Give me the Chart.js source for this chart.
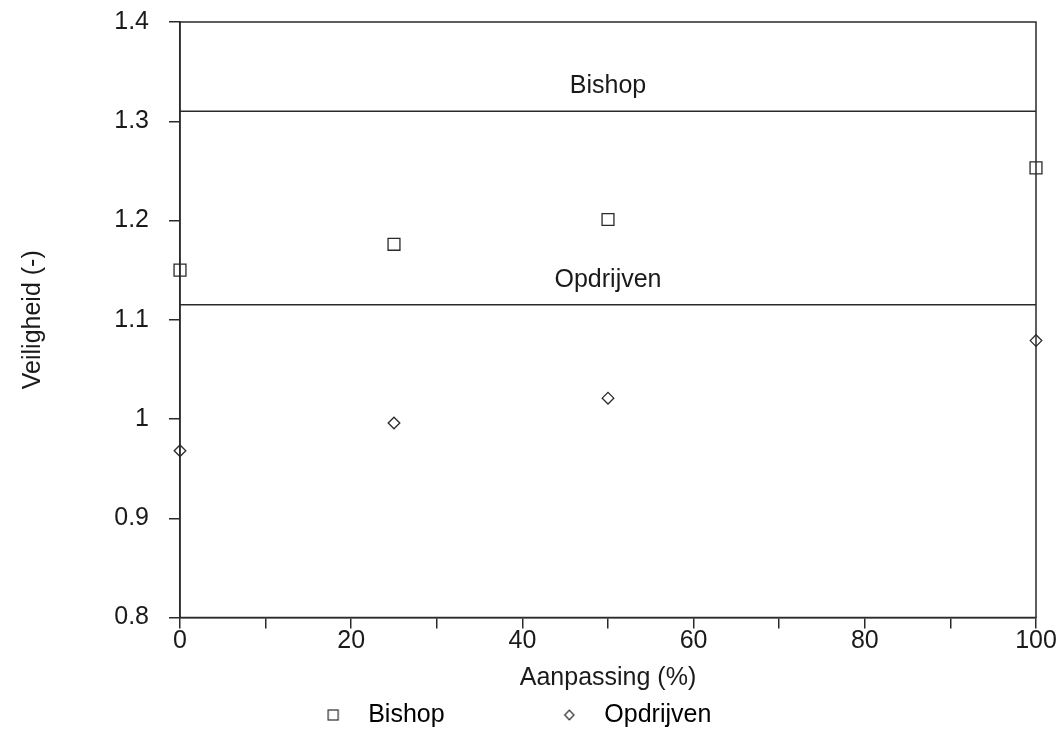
<!DOCTYPE html>
<html>
<head>
<meta charset="utf-8">
<title>Veiligheid tegen aanpassing</title>
<script src="https://cdn.jsdelivr.net/npm/chart.js@4.4.1/dist/chart.umd.min.js"></script>
<style>
  html, body { margin: 0; padding: 0; background: #fff; }
  #chart { display: block; }
</style>
</head>
<body>
<canvas id="chart" width="1059" height="731"></canvas>
<script>
// measured points (x = aanpassing in %)
const aanpassing = [0, 25, 50, 100];
const bishop = [1.150, 1.176, 1.201, 1.253];
const opdrijven = [0.968, 0.996, 1.021, 1.079];

// horizontal reference levels, label printed above each line
const refNames = ['Bishop', 'Opdrijven'];
const refLevels = [1.31, 1.115];
const refSpan = [0, 100];

const xTickLabels = [0, 20, 40, 60, 80, 100];
const yTickLabels = ['0.8', '0.9', '1', '1.1', '1.2', '1.3', '1.4'];

const ink = '#1a1a1a';
const axisColor = '#2a2a2a';
const fontFamily = '"Liberation Sans", Arial, Helvetica, sans-serif';

Chart.defaults.font.family = fontFamily;
Chart.defaults.font.size = 25;
Chart.defaults.color = ink;

// small marker pictures for the legend, so the gap to the text can be wider
function legendMarker(shape) {
    const c = document.createElement('canvas');
    c.width = 14;
    c.height = 14;
    const g = c.getContext('2d');
    g.strokeStyle = axisColor;
    g.lineWidth = 1.2;
    if (shape === 'square') {
        g.strokeRect(2, 2, 10, 10);
    } else {
        g.beginPath();
        g.moveTo(7, 2.2);
        g.lineTo(11.6, 7);
        g.lineTo(7, 11.8);
        g.lineTo(2.4, 7);
        g.closePath();
        g.stroke();
    }
    return c;
}
const markerSquare = legendMarker('square');
const markerDiamond = legendMarker('diamond');

// frame round the plot area (top and right sides)
const frame = {
    id: 'frame',
    beforeDatasetsDraw(chart) {
        const {ctx, chartArea: a} = chart;
        ctx.save();
        ctx.strokeStyle = axisColor;
        ctx.lineWidth = 1.5;
        ctx.strokeRect(a.left, a.top, a.right - a.left, a.bottom - a.top);
        ctx.restore();
    }
};

// names written above the reference lines
const refLabels = {
    id: 'refLabels',
    afterDatasetsDraw(chart) {
        const {ctx, scales: {x, y}} = chart;
        ctx.save();
        ctx.font = '25px ' + fontFamily;
        ctx.fillStyle = ink;
        ctx.textAlign = 'center';
        ctx.textBaseline = 'middle';
        refNames.forEach((name, i) => {
            ctx.fillText(name, x.getPixelForValue((refSpan[0] + refSpan[1]) / 2),
                y.getPixelForValue(refLevels[i]) - 25);
        });
        ctx.restore();
    }
};

const points = vals => aanpassing.map((a, i) => ({x: a, y: vals[i]}));
const refLine = level => refSpan.map(a => ({x: a, y: level}));

new Chart(document.getElementById('chart'), {
    type: 'scatter',
    data: {
        datasets: [
            {
                label: 'Bishop',
                data: points(bishop),
                pointStyle: 'rect',
                pointRadius: 8.4,
                pointBorderWidth: 1.3,
                borderColor: axisColor,
                backgroundColor: 'rgba(0,0,0,0)',
                clip: false
            },
            {
                label: 'Opdrijven',
                data: points(opdrijven),
                pointStyle: 'rectRot',
                pointRadius: 5.8,
                pointBorderWidth: 1.3,
                borderColor: axisColor,
                backgroundColor: 'rgba(0,0,0,0)',
                clip: false
            },
            {
                label: refNames[0] + ' niveau',
                data: refLine(refLevels[0]),
                showLine: true,
                pointRadius: 0,
                borderColor: axisColor,
                borderWidth: 1.5
            },
            {
                label: refNames[1] + ' niveau',
                data: refLine(refLevels[1]),
                showLine: true,
                pointRadius: 0,
                borderColor: axisColor,
                borderWidth: 1.5
            }
        ]
    },
    options: {
        responsive: false,
        devicePixelRatio: 1,
        animation: false,
        events: [],
        // left is negative so the centred legend sits a bit left of the page centre
        layout: {padding: {top: 22, right: 23, bottom: 0, left: -14}},
        plugins: {
            tooltip: {enabled: false},
            legend: {
                position: 'bottom',
                maxHeight: 33.5,
                labels: {
                    usePointStyle: true,
                    pointStyleWidth: 45,
                    padding: 5,
                    color: ink,
                    font: {size: 25},
                    generateLabels: chart => {
                        const ds = chart.data.datasets;
                        const blank = 'rgba(0,0,0,0)';
                        return [
                            {text: ds[0].label, pointStyle: markerSquare, fillStyle: blank,
                             strokeStyle: blank, lineWidth: 0, datasetIndex: 0},
                            // spacer between the two entries
                            {text: '     ', pointStyle: 'circle', fillStyle: blank,
                             strokeStyle: blank, lineWidth: 0},
                            {text: ds[1].label, pointStyle: markerDiamond, fillStyle: blank,
                             strokeStyle: blank, lineWidth: 0, datasetIndex: 1}
                        ];
                    }
                }
            }
        },
        scales: {
            x: {
                type: 'linear',
                min: 0,
                max: 100,
                border: {color: axisColor, width: 1.5},
                grid: {drawOnChartArea: false, tickLength: 11, color: axisColor, lineWidth: 1.5},
                ticks: {
                    stepSize: 10,
                    autoSkip: false,
                    maxRotation: 0,
                    padding: 0,
                    font: {size: 25, lineHeight: 1},
                    callback: v => xTickLabels.includes(v) ? String(v) : ''
                },
                title: {
                    display: true,
                    text: 'Aanpassing (%)',
                    font: {size: 25, lineHeight: 1},
                    padding: {top: 12, bottom: 7}
                }
            },
            y: {
                min: 0.8,
                max: 1.4,
                afterFit: scale => {
                    scale.width = 194;
                    // the tick padding would otherwise push the plot top down
                    scale.paddingTop = 0;
                    scale.paddingBottom = 0;
                },
                border: {color: axisColor, width: 1.5},
                grid: {drawOnChartArea: false, tickLength: 11, color: axisColor, lineWidth: 1.5},
                ticks: {
                    stepSize: 0.1,
                    padding: 20,
                    font: {size: 25, lineHeight: 1},
                    callback: (v, i) => yTickLabels[i]
                },
                title: {
                    display: true,
                    text: 'Veiligheid (-)',
                    font: {size: 25, lineHeight: 1},
                    padding: {top: 35, bottom: 0}
                }
            }
        }
    },
    plugins: [frame, refLabels]
});
</script>
</body>
</html>
